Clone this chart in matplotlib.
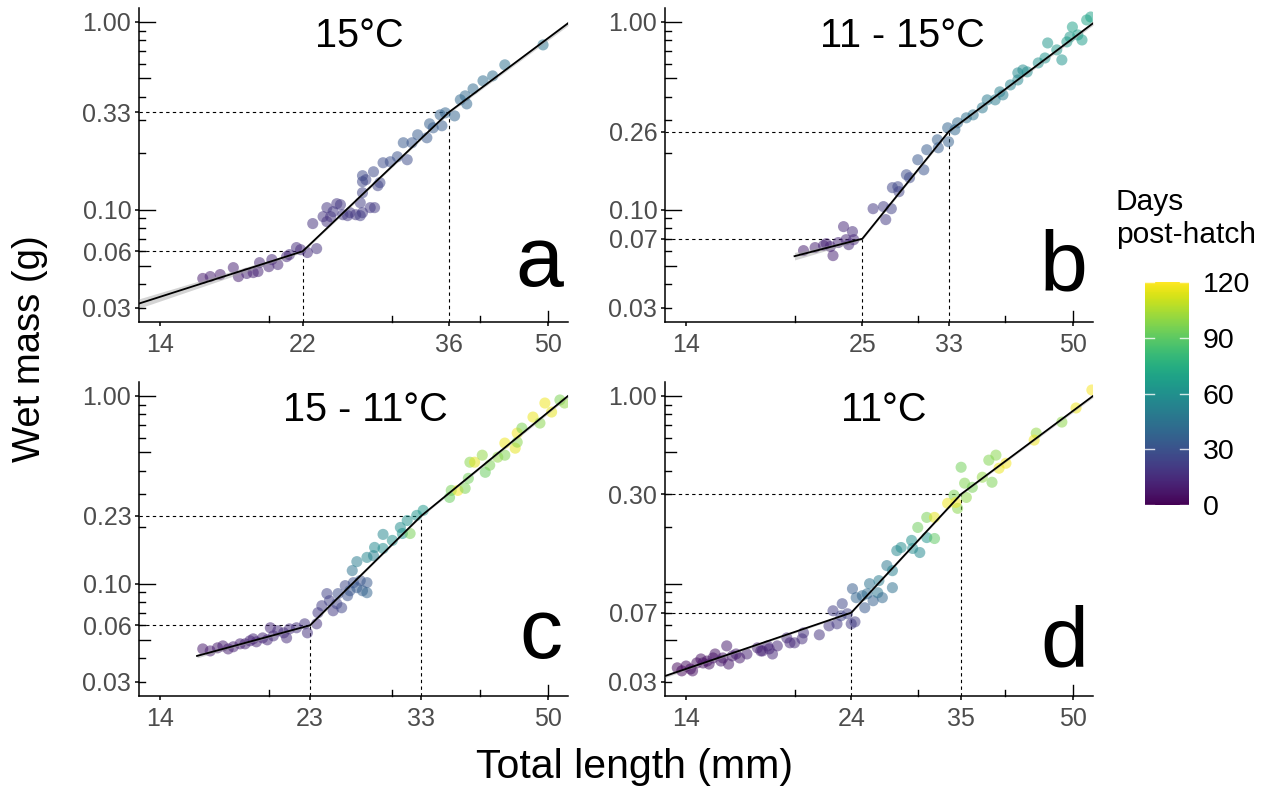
import numpy as np
import matplotlib
matplotlib.use("Agg")
import matplotlib.pyplot as plt
from matplotlib.colors import Normalize
from matplotlib.cm import ScalarMappable
from matplotlib.ticker import FixedLocator, FixedFormatter, NullLocator
from matplotlib.transforms import blended_transform_factory

plt.rcParams['font.family'] = ['Liberation Sans', 'DejaVu Sans']

# ---------------- data ----------------
# Panel a: 15°C
a_length = [16.1, 16.5, 17.05, 17.8, 18.1, 18.6, 19.0, 19.3, 19.4, 20.0, 20.2, 20.6, 21.2, 21.4, 21.9, 22.2, 22.7, 23.4,
            23.1, 23.9, 24.2, 24.5, 24.7, 25.0, 25.3, 24.2, 25.5, 25.9, 26.1, 26.6, 27.0, 27.2, 27.0, 27.9, 28.3,
            27.2, 27.2, 27.2, 27.5, 28.2, 28.8, 28.6, 29.1, 29.8, 30.5, 31.5, 31.1, 32.0, 32.6, 33.6, 33.9, 34.3, 35.3,
            35.1, 35.7, 36.8, 37.5, 38.1, 38.3, 39.1, 40.4, 41.7, 43.4, 49.2]
a_mass = [0.0430, 0.0440, 0.0451, 0.0491, 0.0440, 0.0457, 0.0462, 0.0468, 0.0522, 0.0497, 0.0542, 0.0510, 0.0562, 0.0576,
          0.0628, 0.0612, 0.0591, 0.0620,
          0.0843, 0.0918, 0.1025, 0.0918, 0.0976, 0.1076, 0.1063, 0.0863, 0.0940, 0.0929, 0.0964, 0.0940, 0.0929, 0.0964,
          0.1089, 0.1025, 0.1025,
          0.1231, 0.1409, 0.1517, 0.1444, 0.1592, 0.1393, 0.1342, 0.1778, 0.1800, 0.1914, 0.1845, 0.2273, 0.2273, 0.2506,
          0.2415, 0.2867, 0.2730, 0.2799, 0.320, 0.328, 0.316, 0.385, 0.404, 0.366, 0.440, 0.486, 0.516, 0.591, 0.755]
a_days = [9, 10, 9, 11, 10, 12, 11, 12, 13, 12, 14, 13, 14, 15, 16, 15, 16, 17,
          17, 18, 19, 18, 20, 19, 20, 18, 21, 20, 21, 19, 22, 21, 22, 20, 21,
          24, 26, 27, 25, 27, 26, 24, 28, 29, 30, 28, 33, 32, 34, 33, 36, 35, 35, 37, 38, 38, 40, 40, 39, 41, 42, 43, 44, 46]

# Panel b: 11 - 15°C
b_length = [20.6, 21.4, 22.0, 22.5, 22.7, 23.1, 23.5, 23.7, 23.9, 24.2, 24.3, 22.2,
            25.9, 26.8, 27.0, 27.5, 27.6, 28.1, 28.2, 28.9, 29.2,
            30.0, 30.6, 30.9, 32.0, 32.1, 33.1, 33.2, 33.9, 34.2,
            35.2, 36.0, 37.1, 37.7, 38.7, 39.3, 39.7, 40.7, 41.7, 41.7, 42.4, 43.0, 44.6, 45.6,
            46.0, 47.4, 48.2, 49.0, 49.5, 49.9, 50.8, 51.5, 52.3, 53.0]
b_mass = [0.0605, 0.0628, 0.0644, 0.0636, 0.0569, 0.0668, 0.0812, 0.0692, 0.0651, 0.0764, 0.0692, 0.0659,
          0.1012, 0.1038, 0.0885, 0.1012, 0.131, 0.1325, 0.1247, 0.1535, 0.148,
          0.1845, 0.163, 0.2086, 0.2357, 0.2137, 0.273, 0.230, 0.2664, 0.2903,
          0.3086, 0.320, 0.3487, 0.3846, 0.3846, 0.4243, 0.409, 0.462, 0.5355, 0.491, 0.555, 0.542, 0.605, 0.643,
          0.773, 0.710, 0.628, 0.783, 0.832, 0.94, 0.853, 0.802, 1.025, 1.063]
b_days = [10, 11, 12, 12, 11, 13, 14, 13, 14, 15, 14, 12,
          20, 22, 21, 23, 25, 26, 24, 28, 27,
          32, 31, 34, 36, 35, 38, 37, 40, 41,
          44, 46, 48, 49, 50, 52, 51, 54, 56, 55, 57, 58, 60, 61,
          63, 64, 62, 66, 65, 68, 67, 66, 70, 69]

# Panel c: 15 - 11°C
c_length = [16.1, 16.5, 16.9, 17.2, 17.5, 17.8, 18.2, 18.5, 18.8, 19.0, 19.2, 19.6, 19.9, 20.1, 20.3, 20.6, 21.0, 21.2,
            21.4, 21.9, 22.5, 22.7, 23.4,
            23.5, 23.8, 24.2, 24.4, 24.7, 25.0, 25.4, 25.1, 25.7, 25.9, 26.1, 26.4, 26.7, 27.0, 27.2, 27.6, 27.6,
            26.3, 26.7, 27.6, 28.2, 28.3, 29.1, 29.1, 30.0, 30.8, 31.0, 31.5, 31.8, 32.5, 33.2,
            36.2, 36.4, 37.2, 38.1, 38.5, 38.7, 39.3, 40.3, 40.7, 41.3, 42.4, 43.4, 43.4, 44.9, 45.2, 45.2, 45.9,
            47.6, 48.7, 49.5, 50.6, 52.0, 52.8]
c_mass = [0.0449, 0.0438, 0.0455, 0.0466, 0.0449, 0.0461, 0.0478, 0.0478, 0.0496, 0.0508, 0.0490, 0.0514, 0.0502,
          0.0582, 0.0527, 0.0561, 0.0547, 0.0514, 0.0574, 0.0582, 0.0611, 0.0547, 0.0611,
          0.070, 0.0763, 0.0885, 0.0811, 0.0717, 0.0782, 0.0744, 0.0885, 0.0976, 0.0863, 0.0917, 0.1012, 0.0952,
          0.1038, 0.0917, 0.1012, 0.0895,
          0.1174, 0.131, 0.138, 0.141, 0.156, 0.154, 0.183, 0.170, 0.1993, 0.185, 0.217, 0.185, 0.231, 0.2457,
          0.288, 0.314, 0.314, 0.322, 0.364, 0.4436, 0.4436, 0.4836, 0.392, 0.4276, 0.472, 0.4836, 0.561, 0.527,
          0.5675, 0.634, 0.674, 0.772, 0.717, 0.917, 0.821, 0.952, 0.917]
c_days = [8, 9, 9, 10, 10, 11, 11, 12, 12, 13, 12, 13, 14, 14, 15, 15, 16, 15, 16, 17, 18, 17, 18,
          20, 22, 24, 23, 21, 24, 25, 28, 26, 30, 32, 29, 34, 31, 36, 33, 38,
          45, 50, 55, 52, 56, 58, 55, 60, 58, 62, 60, 95, 62, 64,
          92, 95, 118, 96, 94, 98, 115, 100, 92, 96, 100, 97, 117, 115, 98, 118, 96, 116, 98, 117, 115, 96, 100]

# Panel d: 11°C
d_length = [13.6, 13.8, 14.0, 14.2, 14.3, 14.5, 14.7, 14.8, 15.0, 15.1, 15.3, 15.4, 15.7, 15.8, 16.0, 16.1, 16.3,
            16.5, 16.7, 17.1, 17.7, 17.9, 18.0, 18.3, 18.4, 18.6, 18.9, 19.5, 19.7, 20.0,
            20.5, 20.6, 21.7, 22.4, 22.7, 23.0, 23.3, 23.4, 23.8, 24.1, 24.4,
            24.2, 24.5, 25.0, 25.2, 25.4, 25.6, 25.9, 26.3, 26.4, 26.7, 27.1, 27.6, 27.6,
            28.0, 28.4, 29.4, 29.5, 30.2, 30.9,
            31.7, 30.0, 30.9, 31.7, 33.1, 33.8, 34.2, 34.0, 34.6, 35.0, 35.2, 35.9, 37.1, 37.9, 38.3, 38.8, 39.2,
            40.1, 44.3, 44.0, 48.2, 50.5, 53.2]
d_mass = [0.0356, 0.0343, 0.0364, 0.0351, 0.0343, 0.0378, 0.0397, 0.0378, 0.0387, 0.0373, 0.0402, 0.0422, 0.0387,
          0.0402, 0.0466, 0.0373, 0.0412, 0.0422, 0.0402, 0.0422, 0.0455, 0.0438, 0.0438, 0.0466, 0.0449, 0.0422,
          0.0466, 0.0514, 0.0484, 0.0484,
          0.0508, 0.0547, 0.0534, 0.0596, 0.0717, 0.0611, 0.0674, 0.0782, 0.0691, 0.0611, 0.0626,
          0.094, 0.0842, 0.0863, 0.0744, 0.0884, 0.100, 0.0811, 0.0895, 0.1038, 0.0842, 0.1248, 0.1173, 0.0952,
          0.150, 0.1558, 0.170, 0.154, 0.1465, 0.176,
          0.174, 0.1993, 0.2254, 0.2254, 0.268, 0.296, 0.252, 0.271, 0.417, 0.343, 0.288, 0.326, 0.369, 0.455,
          0.347, 0.484, 0.412, 0.438, 0.634, 0.582, 0.726, 0.863, 1.076]
d_days = [3, 2, 4, 3, 5, 4, 5, 6, 5, 6, 7, 6, 8, 7, 9, 8, 9, 10, 9, 11, 11, 12, 12, 13, 12, 14, 13, 15, 14, 15,
          16, 17, 18, 19, 22, 20, 24, 26, 23, 21, 22,
          35, 38, 40, 33, 42, 45, 36, 47, 50, 40, 48, 52, 44,
          55, 58, 60, 57, 56, 62,
          90, 93, 95, 115, 117, 96, 98, 118, 94, 97, 99, 95, 100, 97, 96, 98, 116, 118, 100, 117, 99, 117, 119]

# Broken-stick fits (vertices) and confidence half-widths (log10 units)
a_fit_x = [13.06, 22.35, 36.1, 53.4]
a_fit_y = [0.0316, 0.060, 0.330, 0.984]
b_fit_x = [20.0, 25.0, 33.2, 53.4]
b_fit_y = [0.0565, 0.070, 0.260, 0.984]
c_fit_x = [15.8, 22.9, 33.0, 53.4]
c_fit_y = [0.0412, 0.060, 0.230, 1.0]
d_fit_x = [13.06, 24.1, 34.6, 53.4]
d_fit_y = [0.0322, 0.070, 0.300, 1.0]
a_ci = [0.025, 0.006, 0.006, 0.012]
b_ci = [0.02, 0.006, 0.006, 0.010]
c_ci = [0.010, 0.005, 0.005, 0.008]
d_ci = [0.008, 0.004, 0.005, 0.008]

# Axis tick labels
a_xtick_labels = ['14', '22', '36', '50']
b_xtick_labels = ['14', '25', '33', '50']
c_xtick_labels = ['14', '23', '33', '50']
d_xtick_labels = ['14', '24', '35', '50']
a_yticks = [0.03, 0.06, 0.10, 0.33, 1.00]
b_yticks = [0.03, 0.07, 0.10, 0.26, 1.00]
c_yticks = [0.03, 0.06, 0.10, 0.23, 1.00]
d_yticks = [0.03, 0.07, 0.30, 1.00]

titles = ['15°C', '11 - 15°C', '15 - 11°C', '11°C']
letters = ['a', 'b', 'c', 'd']
cbar_ticks = [0, 30, 60, 90, 120]

XLIM = (13.06, 53.4)
YLIM = (0.0252, 1.187)

# ---------------- figure ----------------
W, H = 1281, 791
fig = plt.figure(figsize=(W / 100, H / 100), dpi=100)
fig.patch.set_facecolor('white')

def fr(l, t, r, b):
    return [l / W, 1 - b / H, (r - l) / W, (b - t) / H]

rects = [fr(139, 8, 568, 322), fr(665, 8, 1093, 322), fr(139, 382, 568, 696), fr(665, 382, 1093, 696)]
title_x = [0.513, 0.554, 0.527, 0.512]
letter_y = [0.115, 0.10, 0.12, 0.095]

panels = [
    (a_length, a_mass, a_days, a_fit_x, a_fit_y, a_ci, a_xtick_labels, a_yticks),
    (b_length, b_mass, b_days, b_fit_x, b_fit_y, b_ci, b_xtick_labels, b_yticks),
    (c_length, c_mass, c_days, c_fit_x, c_fit_y, c_ci, c_xtick_labels, c_yticks),
    (d_length, d_mass, d_days, d_fit_x, d_fit_y, d_ci, d_xtick_labels, d_yticks),
]

cmap = plt.get_cmap('viridis')
norm = Normalize(vmin=0, vmax=120)
TICK_GREY = '#4d4d4d'

for i, (L, M, D, fx, fy, ci, xlabels, yticks) in enumerate(panels):
    ax = fig.add_axes(rects[i])
    ax.set_xscale('log')
    ax.set_yscale('log')
    for s in ['top', 'right']:
        ax.spines[s].set_visible(False)
    for s in ['left', 'bottom']:
        ax.spines[s].set_linewidth(1.1)
        ax.spines[s].set_color('black')

    # dashed breakpoint guides
    for bx, by in [(fx[1], fy[1]), (fx[2], fy[2])]:
        ax.plot([XLIM[0], bx], [by, by], color='black', lw=0.8, ls=(0, (3, 3)), zorder=1)
        ax.plot([bx, bx], [YLIM[0], by], color='black', lw=0.8, ls=(0, (3, 3)), zorder=1)

    ax.scatter(L, M, c=D, cmap=cmap, norm=norm, s=64, alpha=0.52, linewidths=0, zorder=2)

    # ribbon + fitted line
    xs = np.logspace(np.log10(fx[0]), np.log10(fx[-1]), 200)
    ly = np.interp(np.log10(xs), np.log10(fx), np.log10(fy))
    lw_ = np.interp(np.log10(xs), np.log10(fx), ci)
    ax.fill_between(xs, 10 ** (ly - lw_), 10 ** (ly + lw_), color='#a0a0a0', alpha=0.45, lw=0, zorder=3)
    ax.plot(fx, fy, color='black', lw=1.3, zorder=4)

    # major ticks (labelled breaks)
    xt = [14, fx[1], fx[2], 50]
    ax.xaxis.set_major_locator(FixedLocator(xt))
    ax.xaxis.set_major_formatter(FixedFormatter(xlabels))
    ax.yaxis.set_major_locator(FixedLocator(yticks))
    ax.yaxis.set_major_formatter(FixedFormatter(['%.2f' % v for v in yticks]))
    ax.xaxis.set_minor_locator(NullLocator())
    ax.yaxis.set_minor_locator(NullLocator())
    ax.tick_params(axis='both', which='major', direction='out', length=3, width=1.1,
                   colors='black', labelcolor=TICK_GREY, labelsize=18)
    ax.tick_params(axis='x', pad=5)
    ax.tick_params(axis='y', pad=2.5)

    # log ticks drawn inside (short / mid / long)
    pw = (rects[i][2] * W)
    ph = (rects[i][3] * H)
    ty = blended_transform_factory(ax.transAxes, ax.transData)
    tx = blended_transform_factory(ax.transData, ax.transAxes)
    for dec in [0.01, 0.1, 1, 10, 100]:
        for k in range(1, 10):
            v = k * dec
            ln = 16 if k == 1 else (11 if k == 5 else 6)
            if YLIM[0] <= v <= YLIM[1]:
                ax.plot([0, ln / pw], [v, v], transform=ty, color='black', lw=1.0, clip_on=False, zorder=5)
            if XLIM[0] <= v <= XLIM[1]:
                ax.plot([v, v], [0, ln / ph], transform=tx, color='black', lw=1.0, clip_on=False, zorder=5)

    ax.set_xlim(XLIM)
    ax.set_ylim(YLIM)

    ax.text(title_x[i], 0.876, titles[i], transform=ax.transAxes, ha='center', va='baseline',
            fontsize=28.5, color='black')
    ax.text(0.988, letter_y[i], letters[i], transform=ax.transAxes, ha='right', va='baseline',
            fontsize=62, color='black')

# axis titles
fig.text(635 / W, 1 - 767 / H, 'Total length (mm)', ha='center', va='center', fontsize=29.5)
fig.text(30 / W, 1 - 349 / H, 'Wet mass (g)', ha='center', va='center', rotation=90, fontsize=27.5)

# colorbar
cax = fig.add_axes(fr(1145, 282, 1189, 505))
sm = ScalarMappable(norm=norm, cmap=cmap)
cb = fig.colorbar(sm, cax=cax, ticks=cbar_ticks)
cb.outline.set_visible(False)
cax.tick_params(length=0, labelsize=20.5, pad=10, labelcolor='black')
cax.set_yticklabels([str(t) for t in cbar_ticks])
tcb = blended_transform_factory(cax.transAxes, cax.transData)
for t in cbar_ticks:
    cax.plot([0, 0.2], [t, t], transform=tcb, color='white', lw=1.0, alpha=0.8)
    cax.plot([0.8, 1.0], [t, t], transform=tcb, color='white', lw=1.0, alpha=0.8)
cax.set_ylim(0, 120)
fig.text(1116 / W, 1 - 210 / H, 'Days', ha='left', va='baseline', fontsize=21.5)
fig.text(1116 / W, 1 - 243 / H, 'post-hatch', ha='left', va='baseline', fontsize=21.5)

fig.savefig('out.png', dpi=100, facecolor='white')
